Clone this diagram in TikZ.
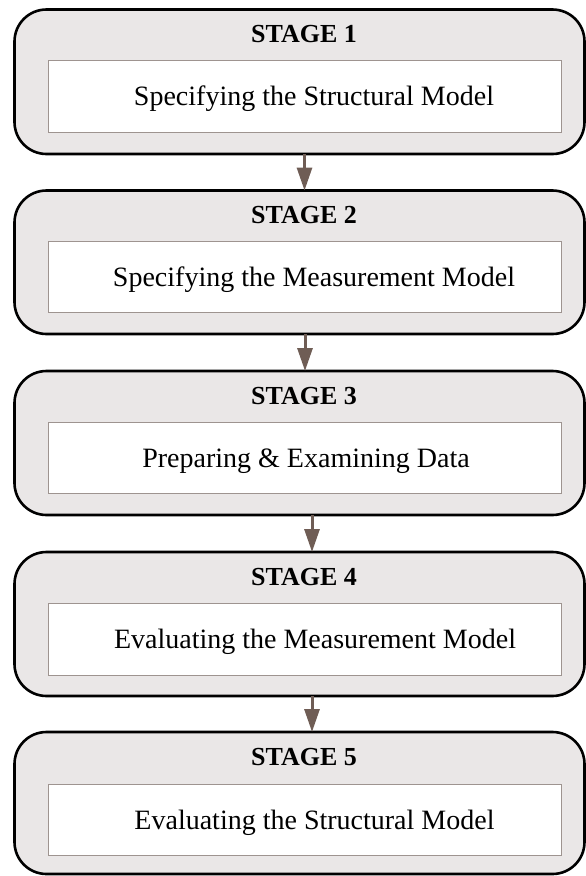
\documentclass[tikz,border=0pt]{standalone}
\usepackage{fontspec}
\setmainfont{Liberation Serif}
\usetikzlibrary{arrows.meta}

\definecolor{stagefill}{RGB}{234,231,231}
\definecolor{innerline}{RGB}{158,148,144}
\definecolor{flowcol}{RGB}{111,93,85}

\tikzset{
  stagebox/.style={draw=black, line width=2.6pt, fill=stagefill,
    rounded corners=32pt, minimum width=570pt, outer sep=0pt, inner sep=0pt},
  innerbox/.style={draw=innerline, line width=1pt, fill=white,
    minimum width=513pt, outer sep=0pt, inner sep=0pt},
  stagetitle/.style={anchor=base, inner sep=0pt,
    font=\fontsize{26}{30}\selectfont\bfseries},
  stagetext/.style={anchor=base, inner sep=0pt,
    font=\fontsize{28}{32}\selectfont},
  flow/.style={draw=flowcol, line width=3pt,
    -{Triangle[length=23pt,width=15pt]}}
}

\begin{document}
\begin{tikzpicture}[x=1pt,y=-1pt]
  \useasboundingbox (0,0) rectangle (586,876);

  % outer stage panels
  \node[stagebox, minimum height=144.5pt] (s1) at (299.5,81.75) {};
  \node[stagebox, minimum height=143.5pt] (s2) at (299.5,262.25) {};
  \node[stagebox, minimum height=144pt]   (s3) at (299.5,443) {};
  \node[stagebox, minimum height=144pt]   (s4) at (299.5,624) {};
  \node[stagebox, minimum height=142pt]   (s5) at (299.5,803) {};

  % white content boxes
  \node[innerbox, minimum height=72pt]   (b1) at (304.5,96) {};
  \node[innerbox, minimum height=71pt]   (b2) at (304.5,277) {};
  \node[innerbox, minimum height=71pt]   (b3) at (304.5,457.5) {};
  \node[innerbox, minimum height=72pt]   (b4) at (304.5,639) {};
  \node[innerbox, minimum height=71.5pt] (b5) at (304.5,819.75) {};

  % stage headings
  \node[stagetitle] (h1) at (304,42.5)  {STAGE 1};
  \node[stagetitle] (h2) at (304,223.5) {STAGE 2};
  \node[stagetitle] (h3) at (304,404)   {STAGE 3};
  \node[stagetitle] (h4) at (304,585)   {STAGE 4};
  \node[stagetitle] (h5) at (304,765)   {STAGE 5};

  % stage descriptions
  \node[stagetext] (t1) at (314,105.5) {Specifying the Structural Model};
  \node[stagetext] (t2) at (314,286.5) {Specifying the Measurement Model};
  \node[stagetext] (t3) at (306,467)   {Preparing \& Examining Data};
  \node[stagetext] (t4) at (315,648.5) {Evaluating the Measurement Model};
  \node[stagetext] (t5) at (314.5,829) {Evaluating the Structural Model};

  % flow between stages
  \draw[flow] ([xshift=5pt]s1.south)    -- ([xshift=5pt]s2.north);
  \draw[flow] ([xshift=5.5pt]s2.south)  -- ([xshift=5.5pt]s3.north);
  \draw[flow] ([xshift=12.5pt]s3.south) -- ([xshift=12.5pt]s4.north);
  \draw[flow] ([xshift=12.5pt]s4.south) -- ([xshift=12.5pt]s5.north);
\end{tikzpicture}
\end{document}
